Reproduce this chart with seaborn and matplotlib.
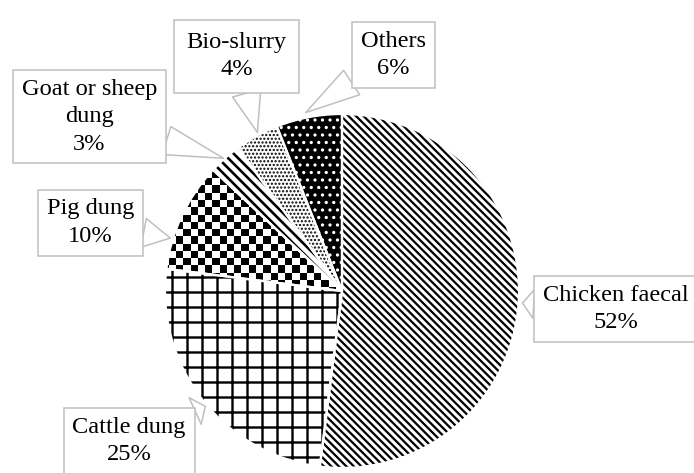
import numpy as np
import matplotlib
matplotlib.use("Agg")
import matplotlib.pyplot as plt
import seaborn as sns

# Share of each feedstock in biogas production (%)
sources = ["Chicken faecal", "Cattle dung", "Pig dung",
           "Goat or sheep dung", "Bio-slurry", "Others"]
shares = [52, 25, 10, 3, 4, 6]
callout_names = ["Chicken faecal", "Cattle dung", "Pig dung",
                 "Goat or sheep\ndung", "Bio-slurry", "Others"]

sns.set_style("white")
plt.rcParams["font.family"] = ["Liberation Serif", "DejaVu Serif"]
plt.rcParams["hatch.linewidth"] = 1.6

DPI = 90
fig = plt.figure(figsize=(694 / DPI, 473 / DPI), dpi=DPI)
ax = fig.add_axes([0, 0, 1, 1])

# black & white fill styles per slice
hatches = ["\\\\\\\\", "+", None, "\\\\\\", "....", ".."]
faces = ["white", "white", "white", "white", "white", "black"]
hatch_cols = ["black", "black", "black", "black", "black", "white"]
hatch_lws = [1.8, 1.9, 1.0, 2.1, 1.2, 1.4]

wedges, _ = ax.pie(shares, startangle=90, counterclock=False, radius=1.0,
                   center=(0, 0), wedgeprops=dict(linewidth=0))
for w, h, fc, hc, hl in zip(wedges, hatches, faces, hatch_cols, hatch_lws):
    w.set_facecolor(fc)
    w.set_edgecolor(hc)
    w.set_linewidth(0)
    if h:
        w.set_hatch(h)
    if hasattr(w, "set_hatch_linewidth"):
        w.set_hatch_linewidth(hl)

# checkerboard fill for the pig dung slice
cell = 0.041
n = int(np.ceil(1.2 / cell))
board = (np.add.outer(np.arange(n), np.arange(n)) % 2).astype(float)
img = ax.imshow(board, cmap="gray_r", vmin=0, vmax=1, interpolation="nearest",
                extent=[-1.1, -1.1 + n * cell, -0.1, -0.1 + n * cell],
                origin="lower", zorder=wedges[2].get_zorder() + 0.1)
img.set_clip_path(wedges[2])

# white separators between slices
borders, _ = ax.pie(shares, startangle=90, counterclock=False, radius=1.0,
                    center=(0, 0),
                    wedgeprops=dict(facecolor="none", edgecolor="white",
                                    linewidth=1.8))
for b in borders:
    b.set_zorder(5)

# callout text centres and pointer tips (data units, pie radius = 1)
text_pos = [(1.548, -0.102), (-1.203, -0.847), (-1.421, 0.386),
            (-1.427, 0.985), (-0.596, 1.327), (0.291, 1.333)]
tip_pos = [(1.020, -0.068), (-0.772, -0.652), (-0.970, 0.299),
           (-0.670, 0.750), (-0.478, 0.896), (-0.205, 1.008)]

for name, val, tp, tip in zip(callout_names, shares, text_pos, tip_pos):
    pad = 0.5 if name == "Bio-slurry" else 0.36
    ax.annotate(f"{name}\n{val}%", xy=tip, xytext=tp,
                ha="center", va="center", fontsize=19.5, linespacing=1.4,
                color="black", zorder=10, annotation_clip=False,
                bbox=dict(boxstyle=f"square,pad={pad}", fc="white",
                          ec="#bfbfbf", lw=1.2),
                arrowprops=dict(arrowstyle="wedge,tail_width=1.2,shrink_factor=0.5",
                                fc="white", ec="#bfbfbf", lw=1.2,
                                shrinkA=0, shrinkB=0))

ax.set_xlim(-342 / 177, (694 - 342) / 177)
ax.set_ylim(-(473 - 291) / 177, 291 / 177)
ax.set_aspect("equal")
ax.axis("off")

fig.savefig("out.png", dpi=DPI)
